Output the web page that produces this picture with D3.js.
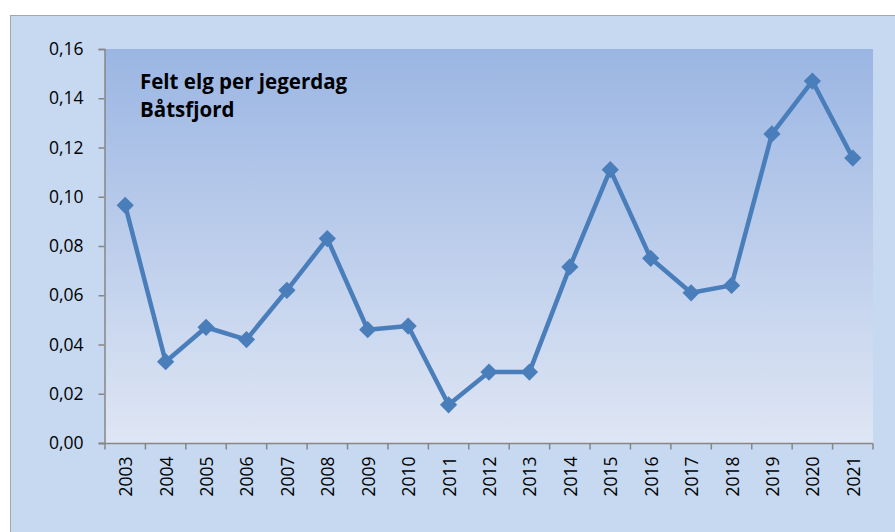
<!DOCTYPE html>
<html>
<head>
<meta charset="utf-8">
<script src="https://cdn.jsdelivr.net/npm/d3@7"></script>
<style>
  body { margin: 0; background: #fff; }
  svg { display: block; }
</style>
</head>
<body>
<div id="chart"></div>
<script>
const years = ["2003","2004","2005","2006","2007","2008","2009","2010","2011","2012",
  "2013","2014","2015","2016","2017","2018","2019","2020","2021"];
const values = [0.0965, 0.033, 0.047, 0.042, 0.062, 0.083, 0.046, 0.0475, 0.0155, 0.0288,
  0.0288, 0.0715, 0.111, 0.075, 0.061, 0.064, 0.1255, 0.147, 0.1157];
const yTicks = [0, 0.02, 0.04, 0.06, 0.08, 0.10, 0.12, 0.14, 0.16];
const titleLines = ["Felt elg per jegerdag", "Båtsfjord"];

const width = 895, height = 532;
const font = "'Open Sans', sans-serif";

const svg = d3.select("#chart").append("svg")
  .attr("width", width).attr("height", height);

const defs = svg.append("defs");
const grad = defs.append("linearGradient").attr("id", "plotGrad")
  .attr("x1", 0).attr("y1", 0).attr("x2", 0).attr("y2", 1);
grad.append("stop").attr("offset", "0%").attr("stop-color", "#9bb6e3");
grad.append("stop").attr("offset", "100%").attr("stop-color", "#dfe6f4");

// outer chart area
svg.append("rect")
  .attr("x", 10.5).attr("y", 15.5)
  .attr("width", width).attr("height", height)
  .attr("fill", "#c6d9f0").attr("stroke", "#a6a6a6").attr("stroke-width", 1);

const plot = { left: 105, top: 49, right: 873, bottom: 443 };

const x = d3.scaleBand().domain(years).range([plot.left, plot.right]);
const y = d3.scaleLinear().domain([0, 0.16]).range([plot.bottom, plot.top]);

svg.append("rect")
  .attr("x", plot.left).attr("y", plot.top)
  .attr("width", plot.right - plot.left).attr("height", plot.bottom - plot.top)
  .attr("fill", "url(#plotGrad)");

// y axis
const yAxis = svg.append("g")
  .attr("transform", `translate(${plot.left - 0.5},0)`)
  .call(d3.axisLeft(y).tickValues(yTicks).tickSize(6).tickPadding(15)
    .tickFormat(d => d3.format(".2f")(d).replace(".", ",")));
yAxis.select(".domain").attr("stroke", "#868686").attr("stroke-width", 1.5);
yAxis.selectAll(".tick line").attr("stroke", "#868686").attr("stroke-width", 1.5);
yAxis.selectAll("text").attr("font-family", font).attr("font-size", 17.5).attr("fill", "#000");

// x axis with ticks at category boundaries
const xAxisG = svg.append("g").attr("transform", `translate(0,${plot.bottom + 0.5})`);
xAxisG.append("line")
  .attr("x1", plot.left - 6).attr("x2", plot.right)
  .attr("stroke", "#868686").attr("stroke-width", 1.5);
const bounds = years.map(d => x(d)).concat([x(years[years.length - 1]) + x.bandwidth()]);
xAxisG.selectAll(".xt").data(bounds).join("line")
  .attr("x1", d => d).attr("x2", d => d).attr("y1", 0).attr("y2", 6)
  .attr("stroke", "#868686").attr("stroke-width", 1.5);
xAxisG.selectAll(".xl").data(years).join("text")
  .attr("transform", d => `translate(${x(d) + x.bandwidth() / 2 + 7},13) rotate(-90)`)
  .attr("text-anchor", "end")
  .attr("font-family", font).attr("font-size", 17.5).attr("fill", "#000")
  .text(d => d);

// line
const data = years.map((d, i) => ({ year: d, value: values[i] }));
const line = d3.line()
  .x(d => x(d.year) + x.bandwidth() / 2)
  .y(d => y(d.value));
svg.append("path").datum(data)
  .attr("d", line).attr("fill", "none")
  .attr("stroke", "#4a7ebb").attr("stroke-width", 4.5).attr("stroke-linejoin", "round");

svg.selectAll(".pt").data(data).join("path")
  .attr("transform", d => `translate(${x(d.year) + x.bandwidth() / 2},${y(d.value)})`)
  .attr("d", d3.symbol(d3.symbolDiamond2, 190))
  .attr("fill", "#4a7ebb");

// title inside plot
svg.selectAll(".title").data(titleLines).join("text")
  .attr("x", 140).attr("y", (d, i) => 89 + i * 28)
  .attr("font-family", font).attr("font-weight", "bold").attr("font-size", 20.5)
  .attr("fill", "#000")
  .text(d => d);
</script>
</body>
</html>
